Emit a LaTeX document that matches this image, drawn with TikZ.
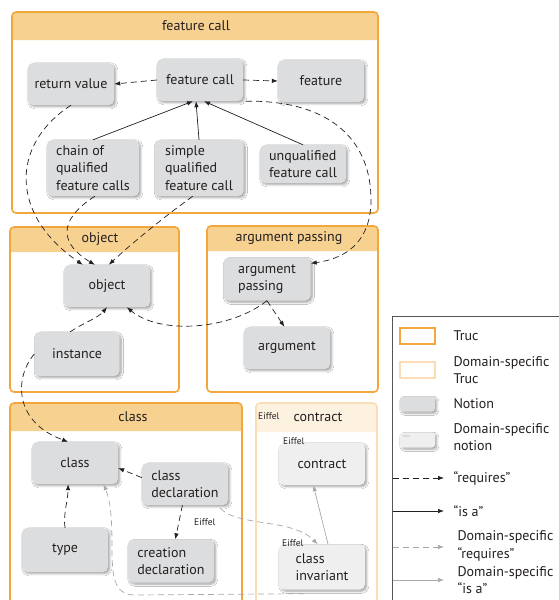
\documentclass[tikz,border=0pt]{standalone}
\usepackage{fontspec}
\setmainfont{PT Sans}
\usetikzlibrary{calc,arrows.meta,shadows.blur}

\definecolor{trucline}{HTML}{F2A73B}
\definecolor{truchead}{HTML}{F7D190}
\definecolor{dsline}{HTML}{FADDB5}
\definecolor{dshead}{HTML}{FDF1E0}
\definecolor{notionfill}{HTML}{DCDDDE}
\definecolor{dsnotionfill}{HTML}{EFEFEF}
\definecolor{ink}{HTML}{231F20}
\definecolor{dsarrow}{HTML}{A8A8A8}
\definecolor{legendline}{HTML}{555555}

\tikzset{
  txt/.style={font=\fontsize{14}{17.5}\selectfont, text=ink},
  small/.style={font=\fontsize{9.5}{10}\selectfont, text=ink, inner sep=0pt},
  notion/.style={txt, rounded corners=5pt, fill=notionfill, minimum width=86pt,
    minimum height=42pt, align=left, inner sep=2pt,
    blur shadow={shadow xshift=1.8pt, shadow yshift=-1.8pt, shadow blur steps=6, shadow opacity=35}},
  dsnotion/.style={notion, fill=dsnotionfill},
  trucbox/.style={draw=trucline, line width=1.6pt, rounded corners=4pt},
  dsbox/.style={draw=dsline, line width=1.6pt, rounded corners=4pt},
  req/.style={draw=ink, dash pattern=on 6pt off 4pt, line width=0.7pt, -{Latex[length=6pt,width=4.5pt]}},
  isa/.style={draw=ink, line width=0.7pt, -{Latex[length=6pt,width=4.5pt]}},
  dsreq/.style={req, draw=dsarrow},
  dsisa/.style={isa, draw=dsarrow},
}

\begin{document}
\begin{tikzpicture}[x=1pt,y=-1pt]
\useasboundingbox (0,0) rectangle (559,600);
\fill[white] (0,0) rectangle (559,600);
\clip (0,0) rectangle (559,600);

% ---------- feature call ----------
\fill[truchead] (12,40) {[rounded corners=4pt] -- (12,12) -- (378,12)} -- (378,40) -- cycle;
\draw[trucbox] (12,12) rectangle (378,213);
\node[txt] (hfc) at (196,26) {feature call};

\node[notion] (rv) at (71,84) {return value};
\node[notion] (fc) at (200,80) {feature call};
\node[notion] (feat) at (321,81) {feature};
\node[notion, minimum width=92pt, minimum height=56pt] (chain) at (93,168) {chain of\\qualified\\feature calls};
\node[notion, minimum width=89pt, minimum height=56pt] (simple) at (199,168) {simple\\qualified\\feature call};
\node[notion, minimum height=38pt] (unq) at (303,164) {unqualified\\feature call};

% ---------- object ----------
\fill[truchead] (10,252) {[rounded corners=4pt] -- (10,227) -- (179,227)} -- (179,252) -- cycle;
\draw[trucbox] (10,227) rectangle (179,392);
\node[txt] (hobj) at (100,239) {object};
\node[notion] (obj) at (107,286) {object};
\node[notion, minimum width=85pt, minimum height=44pt] (inst) at (77,354) {instance};

% ---------- argument passing ----------
\fill[truchead] (207,251) {[rounded corners=4pt] -- (207,226) -- (378,226)} -- (378,251) -- cycle;
\draw[trucbox] (207,226) rectangle (378,392);
\node[txt] (hap) at (289,238) {argument passing};
\node[notion, minimum width=87pt, minimum height=43pt] (ap) at (267,279) {argument\\passing};
\node[notion] (arg) at (287,348) {argument};

% ---------- class ----------
\fill[truchead] (10,431) {[rounded corners=4pt] -- (10,403) -- (242,403)} -- (242,431) -- cycle;
\draw[trucbox] (10,403) rectangle (242,620);
\node[txt] (hcls) at (133,417) {class};
\node[notion] (cls) at (75,463) {class};
\node[notion] (cdecl) at (185,484) {class\\declaration};
\node[notion, minimum height=44pt] (type) at (65,550) {type};
\node[notion, minimum height=43pt] (crdecl) at (171,561) {creation\\declaration};

% ---------- contract (Eiffel) ----------
\fill[dshead] (256,432) {[rounded corners=4pt] -- (256,403) -- (377,403)} -- (377,432) -- cycle;
\draw[dsbox] (256,403) rectangle (377,620);
\node[txt] (hctr) at (318,417) {contract};
\node[small, anchor=west] (hctre) at (258,416) {Eiffel};
\node[dsnotion] (ctr) at (322,464) {contract};
\node[small, anchor=west] (ctre) at (283,441) {Eiffel};
\node[dsnotion, minimum height=45pt] (inv) at (322,567) {class\\invariant};
\node[small, anchor=west] (inve) at (282,543) {Eiffel};

% ---------- connectors ----------
\draw[req] (fc.west) -- (rv.east);
\draw[req] (fc.east) -- (feat.west);
\draw[isa] (chain.north) -- ([xshift=-7pt]fc.south);
\draw[isa] (simple.north) -- ([xshift=-4pt]fc.south);
\draw[isa] (unq.north) -- ([xshift=4pt]fc.south);

\draw[req] (rv.south) .. controls (10,145) and (10,215) .. ($(obj.north west)!0.22!(obj.north east)$);
\draw[req] ($(chain.south west)!0.52!(chain.south east)$) .. controls (55,222) and (62,245) .. ($(obj.north west)!0.36!(obj.north east)$);
\draw[req] ($(simple.south west)!0.43!(simple.south east)$) .. controls (160,220) and (130,245) .. ($(obj.north west)!0.52!(obj.north east)$);

\draw[req] ([xshift=3pt]fc.south east) .. controls (330,100) and (371,140) .. (371,200)
  .. controls (371,238) and (350,258) .. ($(ap.north east)+(0,6)$);

\draw[req] (ap.south) .. controls (230,330) and (160,335) .. ($(obj.south west)!0.73!(obj.south east)$);
\draw[req] (ap.south) -- ($(arg.north west)!0.47!(arg.north east)$);
\draw[req] ($(inst.north west)!0.42!(inst.north east)$) .. controls (85,322) and (98,318) .. (obj.south);
\draw[req] (inst.west) .. controls (14,378) and (14,422) .. ($(cls.north west)!0.42!(cls.north east)$);

\draw[req] ($(cdecl.north west)!0.35!(cdecl.south west)$) -- ($(cls.north east)!0.62!(cls.south east)$);
\draw[req] (type.north) .. controls (63,515) and (68,500) .. ($(cls.south west)!0.42!(cls.south east)$);
\draw[req] ($(cdecl.south west)!0.47!(cdecl.south east)$) -- ($(crdecl.north west)!0.55!(crdecl.north east)$);

\draw[dsreq] ($(cdecl.south east)+(-8,3)$) .. controls (238,527) and (292,518) .. ($(inv.north west)!0.45!(inv.north east)$);
\node[small, anchor=west] (cdecle) at (194,522) {Eiffel};
\draw[dsisa] ($(inv.north west)!0.57!(inv.north east)$) -- ($(ctr.south west)!0.4!(ctr.south east)$);
\draw[dsreq] ($(inv.south west)+(25,4)$) -- (135,595) .. controls (113,595) and (112,575) .. (112,545)
  .. controls (112,515) and (110,500) .. ($(cls.south west)!0.83!(cls.south east)$);

% ---------- legend ----------
\draw[legendline, line width=0.6pt] (392,316) rectangle (580,620);
\draw[trucline, line width=1.6pt] (400,328) rectangle (435,344);
\node[txt, anchor=west] (lgtruc) at (450,336) {Truc};
\draw[dsline, line width=1.6pt] (400,362) rectangle (435,378);
\node[txt, anchor=west, align=left] (lgds) at (450,370) {Domain-specific\\Truc};
\node[notion, minimum width=35pt, minimum height=15pt, rounded corners=3pt] (lgnot) at (417.5,404) {};
\node[txt, anchor=west] (lgnott) at (450,404) {Notion};
\node[dsnotion, minimum width=35pt, minimum height=15pt, rounded corners=3pt] (lgdsn) at (417.5,440) {};
\node[font=\fontsize{3}{3}\selectfont, text=dsarrow, inner sep=0pt, anchor=north west] (lgdse) at (403,435) {Eiffel};
\node[txt, anchor=west, align=left] (lgdsnt) at (450,437) {Domain-specific\\notion};

\coordinate (r1) at (393,478); \coordinate (r2) at (444,478);
\draw[req] (r1) -- (r2);
\node[txt, anchor=west] (lgreq) at (450,478) {“requires”};
\coordinate (i1) at (393,511); \coordinate (i2) at (444,511);
\draw[isa] (i1) -- (i2);
\node[txt, anchor=west] (lgisa) at (450,511) {“is a”};
\coordinate (d1) at (393,547); \coordinate (d2) at (444,547);
\draw[dsreq] (d1) -- (d2);
\node[txt, anchor=west, align=left] (lgdreq) at (454,546) {Domain-specific\\“requires”};
\coordinate (e1) at (393,580); \coordinate (e2) at (444,580);
\draw[dsisa] (e1) -- (e2);
\node[txt, anchor=west, align=left] (lgdisa) at (454,580) {Domain-specific\\“is a”};
\end{tikzpicture}
\end{document}
